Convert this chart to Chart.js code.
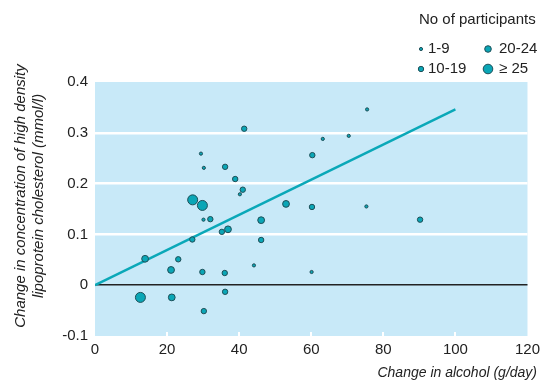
<!DOCTYPE html>
<html><head><meta charset="utf-8">
<script src="https://cdn.jsdelivr.net/npm/chart.js@4/dist/chart.umd.min.js"></script>
<style>html,body{margin:0;padding:0;background:#fff}#w{width:545px;height:384px}</style>
</head><body><div id="w"><canvas id="c"></canvas></div>
<script>
// Data
const alcohol = [41.4,29.4,30.2,36.1,38.9,41.0,40.2,27.1,29.8,30.1,32.0,46.1,35.2,36.9,27.0,46.1,13.9,23.1,21.1,29.8,36.0,44.1,12.6,21.3,36.1,30.2,75.5,63.2,70.4,60.3,53.0,60.2,75.3,90.2,60.1];
const hdlChange = [0.308,0.259,0.231,0.233,0.209,0.188,0.179,0.168,0.157,0.129,0.130,0.128,0.105,0.110,0.090,0.089,0.052,0.051,0.030,0.026,0.024,0.039,-0.024,-0.024,-0.013,-0.051,0.346,0.288,0.294,0.256,0.160,0.154,0.155,0.129,0.026];
// participant group index: 0 = 1-9, 1 = 10-19, 2 = 20-24, 3 = >=25
const sizeGroup = [1,0,0,1,1,1,0,3,3,0,1,2,1,2,1,1,2,1,2,1,1,0,3,2,1,1,0,0,0,1,2,1,0,1,0];
const groupLabels = ['1-9','10-19','20-24','\u2265 25'];
const fitX = [0,100];
const fitY = [0,0.346];
const xTicks = [0,20,40,60,80,100,120];
const yTicks = [-0.1,0,0.1,0.2,0.3,0.4];

const groupRadius = [1.6,2.7,3.4,5];
const FONT = '"Liberation Sans Narrow","Liberation Sans",Arial,sans-serif';
const FILL = '#0aa6b6', EDGE = '#1f4f58';

const bgPlugin = {
  id:'bg',
  beforeDraw(chart){
    const {ctx, chartArea:a} = chart;
    ctx.save(); ctx.fillStyle='#c8e9f8';
    ctx.fillRect(a.left,a.top,a.right-a.left,a.bottom-a.top);
    const xs = chart.scales.x;
    ctx.strokeStyle='#ffffff'; ctx.lineWidth=2;
    for(const t of xTicks){ if(t===0||t===120) continue;
      const px = Math.round(xs.getPixelForValue(t));
      ctx.beginPath(); ctx.moveTo(px,a.bottom); ctx.lineTo(px,a.bottom-4); ctx.stroke(); }
    ctx.restore();
  },
  afterDraw(chart){
    const ctx = chart.ctx;
    ctx.save();
    ctx.fillStyle='#222';
    ctx.font = 'italic 14px '+FONT;
    ctx.textAlign='right'; ctx.textBaseline='middle';
    ctx.fillText('Change in alcohol (g/day)', 537, 373);
    ctx.font = 'italic 15px '+FONT;
    ctx.translate(30, 196); ctx.rotate(-Math.PI/2);
    ctx.textAlign='center';
    ctx.fillText('Change in concentration of high density', 0, -9);
    ctx.fillText('lipoprotein cholesterol (mmol/l)', 0, 9);
    ctx.restore();
    // legend
    ctx.save();
    ctx.fillStyle='#222'; ctx.font='15px '+FONT; ctx.textBaseline='middle'; ctx.textAlign='left';
    ctx.fillText('No of participants', 419, 20);
    const pos = [[421,49],[421,69],[488,49],[488,69]];
    const lr = [1.6,2.7,3.3,4.8];
    for(let i=0;i<4;i++){
      const [x,y]=pos[i];
      ctx.beginPath(); ctx.arc(x,y,lr[i],0,Math.PI*2);
      ctx.fillStyle=FILL; ctx.fill(); ctx.lineWidth=1; ctx.strokeStyle=EDGE; ctx.stroke();
      ctx.fillStyle='#222';
      ctx.fillText(groupLabels[i], x+ (i<2?7:11), y);
    }
    ctx.restore();
  }
};

const points = alcohol.map((x,i)=>({x, y:hdlChange[i]}));
new Chart(document.getElementById('c'), {
  type:'scatter',
  data:{datasets:[
    {type:'line', data: fitX.map((x,i)=>({x,y:fitY[i]})), borderColor:'#0aa8b8', borderWidth:2.5, pointRadius:0, fill:false, order:2},
    {data: points, pointRadius: sizeGroup.map(g=>groupRadius[g]), pointBackgroundColor:FILL, pointBorderColor:EDGE, pointBorderWidth:1, order:1}
  ]},
  options:{
    responsive:true, maintainAspectRatio:false, animation:false,
    layout:{padding:{top:82,right:17,left:0,bottom:0}},
    plugins:{legend:{display:false}, tooltip:{enabled:false}},
    scales:{
      x:{type:'linear', min:0, max:120, afterBuildTicks(s){s.ticks=xTicks.map(v=>({value:v}));},
        afterFit(s){s.height=48;},
        grid:{display:false, drawTicks:false}, border:{display:false},
        ticks:{color:'#222', font:{family:FONT,size:15}, padding:5}},
      y:{min:-0.1, max:0.4, afterBuildTicks(s){s.ticks=yTicks.map(v=>({value:v}));},
        afterFit(s){s.width=95;},
        grid:{drawTicks:false,
          color:c=>{const v=Math.round(c.tick.value*10); return v===0?'#222':(v>0&&v<4?'#ffffff':'rgba(0,0,0,0)');},
          lineWidth:c=>Math.round(c.tick.value*10)===0?1.5:2.5},
        border:{display:false},
        ticks:{color:'#222', font:{family:FONT,size:15}, padding:7,
          callback:v=>{const r=Math.round(v*10)/10; return r===0?'0':String(r);}}}
    }
  },
  plugins:[bgPlugin]
});
</script></body></html>
